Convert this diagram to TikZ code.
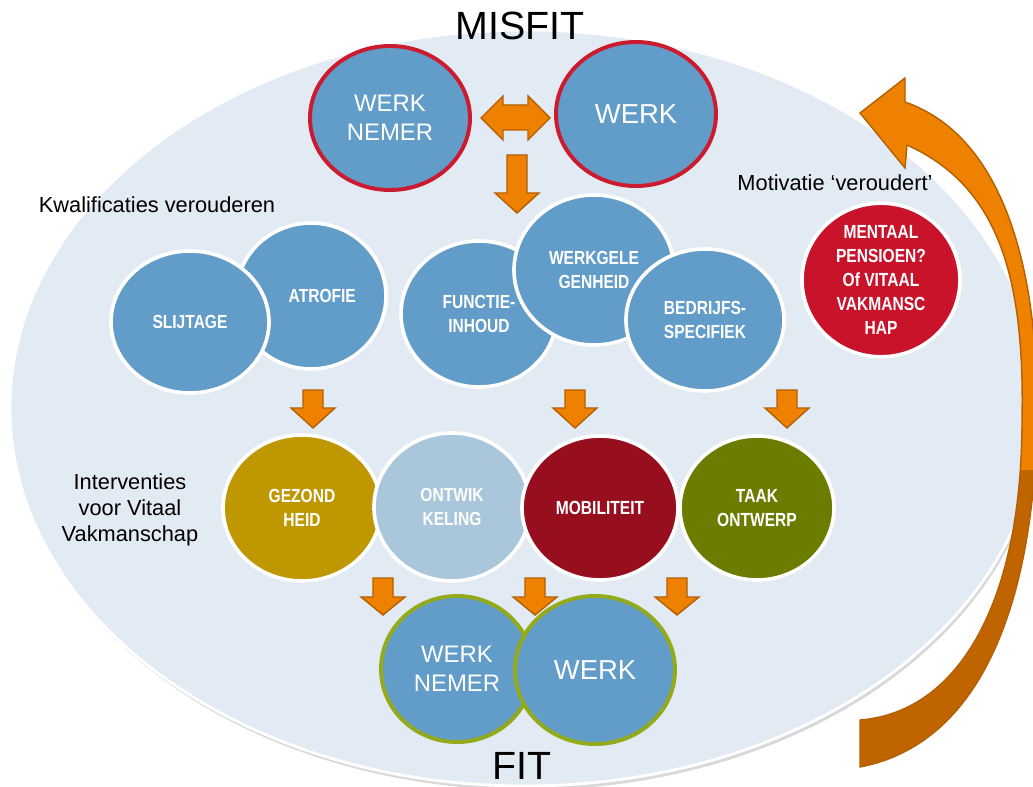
\documentclass[tikz,border=0pt]{standalone}
\usepackage{fontspec}
\setmainfont{Liberation Sans}
\newfontfamily\smalfont[FakeStretch=0.82]{Liberation Sans}
\usetikzlibrary{shapes.geometric,shadows}
\definecolor{ovaal}{HTML}{E2EBF3}
\definecolor{cirkelblauw}{HTML}{629CC8}
\definecolor{misrood}{HTML}{CC1B2E}
\definecolor{fitgroen}{HTML}{94AA1A}
\definecolor{pijloranje}{HTML}{EE8200}
\definecolor{pijlrand}{HTML}{B55F00}
\definecolor{pijldonker}{HTML}{C06400}
\definecolor{goud}{HTML}{BF9700}
\definecolor{lichtblauw}{HTML}{A9C6DB}
\definecolor{bordeaux}{HTML}{970F1F}
\definecolor{olijf}{HTML}{6B7C00}
\definecolor{signaalrood}{HTML}{C8132A}
\tikzset{
  cirkel/.style 2 args={ellipse, draw=white, line width=2.6pt, fill=cirkelblauw, text=white,
    align=center, inner sep=0pt, minimum width=#1*0.025cm, minimum height=#2*0.025cm,
    drop shadow={shadow xshift=0.6pt, shadow yshift=-1.2pt, opacity=0.3}},
  klein/.style={font=\smalfont\bfseries\fontsize{13.5}{17}\selectfont},
  groot/.style={font=\fontsize{17}{21}\selectfont},
  misfit/.style={draw=misrood, line width=2.8pt},
  fit/.style={draw=fitgroen, line width=2.8pt},
  blok/.style={fill=pijloranje, draw=pijlrand, line width=1pt},
  kop/.style={font=\fontsize{28}{30}\selectfont, anchor=base, inner sep=0pt},
  bijschrift/.style={font=\fontsize{15.5}{18.5}\selectfont}
}
\begin{document}
\begin{tikzpicture}[x=0.025cm, y=-0.025cm]
  \useasboundingbox (0,0) rectangle (1033,787);
  \clip (0,0) rectangle (1033,787);
  \fill[black!15] (527,412) ellipse [x radius=515, y radius=378];
  \draw[white, line width=2pt, fill=ovaal] (525,408) ellipse [x radius=515, y radius=378];

  \draw[blok, path picture={\fill[pijldonker] (path picture bounding box.south west) rectangle (path picture bounding box.east |- 0,470);}]
    (905,102) .. controls (1000,135) and (1036,260) .. (1037,400) .. controls (1038,560) and (1000,740) .. (860,767)
    -- (860,720) .. controls (960,712) and (1022,600) .. (1022,420) .. controls (1025,270) and (995,185) .. (907,145)
    -- (905,168) -- (860,113) -- (905,78) -- cycle;

  \node[kop] (misfittekst) at (520,40) {MISFIT};

  \node[cirkel={160}{144}, misfit, groot] (mnemer) at (390,118) {WERK\\NEMER};
  \node[cirkel={160}{144}, misfit, font=\fontsize{19.5}{22}\selectfont] (mwerk) at (636,114) {WERK};

  \node[cirkel={150}{146}, klein] (atrofie) at (311,296) {\hspace*{16pt}ATROFIE};
  \node[cirkel={158}{142}, klein] (slijtage) at (190,322) {SLIJTAGE};
  \node[cirkel={156}{146}, klein] (functie) at (479,314) {FUNCTIE-\\INHOUD};
  \node[cirkel={160}{150}, klein] (werkgele) at (594,270) {WERKGELE\\GENHEID};
  \node[cirkel={158}{142}, klein] (bedrijfs) at (705,320) {BEDRIJFS-\\SPECIFIEK};
  \node[cirkel={158}{144}, klein, fill=signaalrood] (mentaal) at (881,280) {MENTAAL\\PENSIOEN?\\Of VITAAL\\VAKMANSC\\HAP};

  \node[cirkel={158}{146}, klein, fill=goud] (gezond) at (302,508) {GEZOND\\HEID};
  \node[cirkel={156}{148}, klein, fill=lichtblauw] (ontwik) at (452,507) {ONTWIK\\KELING};
  \node[cirkel={156}{144}, klein, fill=bordeaux] (mobiliteit) at (600,508) {MOBILITEIT};
  \node[cirkel={154}{144}, klein, fill=olijf] (taak) at (757,508) {TAAK\\ONTWERP};

  \node[cirkel={152}{146}, fit, groot] (fnemer) at (457,669) {WERK\\NEMER};
  \node[cirkel={160}{148}, fit, font=\fontsize{19.5}{22}\selectfont] (fwerk) at (595,670) {WERK};

  \node[kop] (fittekst) at (522,779) {FIT};

  \node[bijschrift] (kwalificaties) at (157,205) {Kwalificaties verouderen};
  \node[bijschrift] (motivatie) at (835,183) {Motivatie ‘veroudert’};
  \node[bijschrift, align=center] (interventies) at (130,510) {Interventies\\voor Vitaal\\Vakmanschap};

  \draw[blok] (481,118) -- (503,96) -- (503,105) -- (528,105) -- (528,96) -- (550,118)
    -- (528,140) -- (528,130) -- (503,130) -- (503,140) -- cycle;
  \foreach \x/\ya/\yb/\yc in {517/155/193/213, 313/390/408/428, 575/390/408/428, 787/390/408/428,
      383/578/597/615, 535/578/597/615, 677/578/597/615} {
    \draw[blok] (\x-10,\ya) -- (\x+10,\ya) -- (\x+10,\yb) -- (\x+22,\yb) -- (\x,\yc)
      -- (\x-22,\yb) -- (\x-10,\yb) -- cycle;
  }
\end{tikzpicture}
\end{document}
